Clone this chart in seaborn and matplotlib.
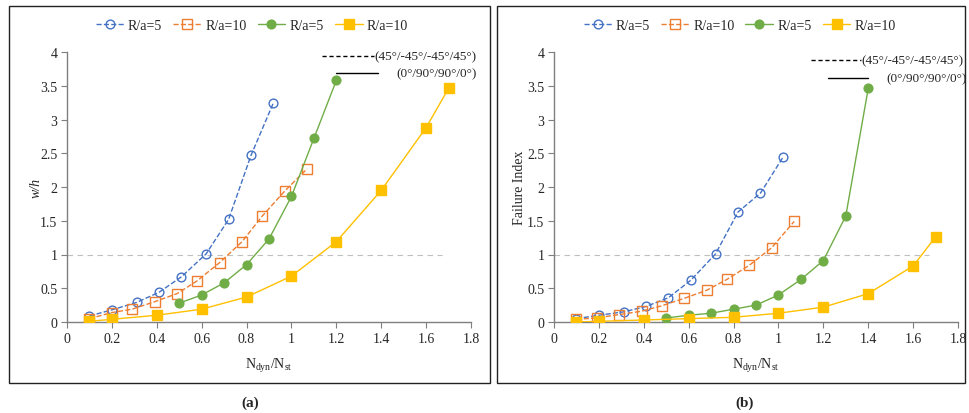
import matplotlib
matplotlib.use("Agg")
import matplotlib.pyplot as plt
import seaborn as sns
from matplotlib.lines import Line2D
from matplotlib.patches import Rectangle

# ---------------- data ----------------
# (a) w/h
a_blue_x = [0.1, 0.2, 0.31, 0.41, 0.51, 0.62, 0.72, 0.82, 0.92]
a_blue_y = [0.09, 0.18, 0.29, 0.44, 0.67, 1.01, 1.52, 2.47, 3.25]
a_orange_x = [0.1, 0.2, 0.29, 0.39, 0.49, 0.58, 0.68, 0.78, 0.87, 0.97, 1.07]
a_orange_y = [0.05, 0.14, 0.19, 0.30, 0.42, 0.61, 0.88, 1.19, 1.57, 1.94, 2.27]
a_green_x = [0.5, 0.6, 0.7, 0.8, 0.9, 1.0, 1.1, 1.2]
a_green_y = [0.28, 0.40, 0.58, 0.85, 1.23, 1.86, 2.72, 3.58]
a_yellow_x = [0.1, 0.2, 0.4, 0.6, 0.8, 1.0, 1.2, 1.4, 1.6, 1.7]
a_yellow_y = [0.01, 0.04, 0.10, 0.19, 0.37, 0.68, 1.19, 1.95, 2.88, 3.46]

# (b) Failure Index
b_blue_x = [0.1, 0.2, 0.31, 0.41, 0.51, 0.61, 0.72, 0.82, 0.92, 1.02]
b_blue_y = [0.05, 0.10, 0.15, 0.23, 0.36, 0.62, 1.01, 1.63, 1.91, 2.44]
b_orange_x = [0.1, 0.19, 0.29, 0.39, 0.48, 0.58, 0.68, 0.77, 0.87, 0.97, 1.07]
b_orange_y = [0.04, 0.06, 0.11, 0.16, 0.24, 0.35, 0.47, 0.63, 0.84, 1.10, 1.49]
b_green_x = [0.5, 0.6, 0.7, 0.8, 0.9, 1.0, 1.1, 1.2, 1.3, 1.4]
b_green_y = [0.06, 0.10, 0.13, 0.19, 0.25, 0.40, 0.63, 0.91, 1.57, 3.46]
b_yellow_x = [0.1, 0.2, 0.4, 0.6, 0.8, 1.0, 1.2, 1.4, 1.6, 1.7]
b_yellow_y = [0.0, 0.01, 0.03, 0.05, 0.07, 0.13, 0.22, 0.42, 0.83, 1.26]

legend_labels = ["R/a=5", "R/a=10", "R/a=5", "R/a=10"]
layup_labels = ["(45°/-45°/-45°/45°)", "(0°/90°/90°/0°)"]
x_ticks = [0, 0.2, 0.4, 0.6, 0.8, 1, 1.2, 1.4, 1.6, 1.8]
x_tick_labels = ["0", "0.2", "0.4", "0.6", "0.8", "1", "1.2", "1.4", "1.6", "1.8"]
y_ticks = [0, 0.5, 1, 1.5, 2, 2.5, 3, 3.5, 4]
y_tick_labels = ["0", "0.5", "1", "1.5", "2", "2.5", "3", "3.5", "4"]

BLUE = "#4472C4"
ORANGE = "#ED7D31"
GREEN = "#70AD47"
YELLOW = "#FFC000"
FS = 9.5

sns.set_style("white")
plt.rcParams["font.family"] = ["Liberation Serif", "DejaVu Serif"]
plt.rcParams["mathtext.fontset"] = "custom"
plt.rcParams["mathtext.rm"] = "Liberation Serif"
plt.rcParams["mathtext.it"] = "Liberation Serif:italic"

fig = plt.figure(figsize=(9.7, 4.14), dpi=100)

W, H = 970.0, 414.0
axA = fig.add_axes([67 / W, (H - 323) / H, 404 / W, 270 / H])
axB = fig.add_axes([554 / W, (H - 323) / H, 404 / W, 270 / H])

# panel frames
fig.patches.append(Rectangle((9 / W, (H - 384) / H), 481 / W, 377 / H,
                             transform=fig.transFigure, fill=False,
                             edgecolor="#222222", linewidth=1.0))
fig.patches.append(Rectangle((497 / W, (H - 384) / H), 468 / W, 377 / H,
                             transform=fig.transFigure, fill=False,
                             edgecolor="#222222", linewidth=1.0))


def draw(ax, series, ylabel, italic, dash_pos, solid_pos, leg_x):
    ax.plot([0, 1.67], [1, 1], color="#BFBFBF", linestyle=(0, (5, 4)),
            linewidth=0.8, zorder=1)
    for (xs, ys, color, marker, filled, ls) in series:
        sns.lineplot(x=xs, y=ys, ax=ax, color=color, marker=marker,
                     linestyle=ls, linewidth=1.0,
                     markersize=6.3 if marker == "o" else 6.5,
                     markerfacecolor=color if filled else "none",
                     markeredgecolor=color, markeredgewidth=1.0,
                     sort=False, estimator=None, legend=False, zorder=3)
    ax.set_xlim(0, 1.8)
    ax.set_ylim(0, 4)
    ax.set_xticks(x_ticks)
    ax.set_xticklabels(x_tick_labels)
    ax.set_yticks(y_ticks)
    ax.set_yticklabels(y_tick_labels)
    for s in ["top", "right"]:
        ax.spines[s].set_visible(False)
    for s in ["left", "bottom"]:
        ax.spines[s].set_color("#7F7F7F")
        ax.spines[s].set_linewidth(1.0)
    ax.tick_params(axis="both", direction="out", length=4, width=0.8,
                   color="#7F7F7F", labelsize=FS + 0.5, pad=3,
                   bottom=True, left=True)
    ax.set_xlabel(r"N$_{\mathrm{dyn}}$/N$_{\mathrm{st}}$", fontsize=FS + 0.5,
                  labelpad=8)
    if italic:
        ax.set_ylabel(ylabel, fontsize=FS + 0.5, style="italic", labelpad=-2)
    else:
        ax.set_ylabel(ylabel, fontsize=FS + 0.5, labelpad=1)
    ax.set_facecolor("none")

    # layup annotation
    (dx0, dx1, dy, tx1) = dash_pos
    (sx0, sx1, sy, tx2) = solid_pos
    ax.plot([dx0, dx1], [dy, dy], color="black", linestyle=(0, (3, 2)),
            linewidth=1.0, clip_on=False)
    ax.text(tx1, dy, layup_labels[0], fontsize=FS, va="center", ha="left")
    ax.plot([sx0, sx1], [sy, sy], color="black", linestyle="-",
            linewidth=1.0, clip_on=False)
    ax.text(tx2, sy, layup_labels[1], fontsize=FS, va="center", ha="left")

    handles = [
        Line2D([], [], color=BLUE, linestyle="--", marker="o", markerfacecolor="none",
               markeredgecolor=BLUE, markersize=6.3, linewidth=1.0),
        Line2D([], [], color=ORANGE, linestyle="--", marker="s", markerfacecolor="none",
               markeredgecolor=ORANGE, markersize=6.5, linewidth=1.0),
        Line2D([], [], color=GREEN, linestyle="-", marker="o", markerfacecolor=GREEN,
               markeredgecolor=GREEN, markersize=6.3, linewidth=1.0),
        Line2D([], [], color=YELLOW, linestyle="-", marker="s", markerfacecolor=YELLOW,
               markeredgecolor=YELLOW, markersize=6.5, linewidth=1.0),
    ]
    ax.legend(handles, legend_labels, ncol=4, loc="center",
              bbox_to_anchor=(leg_x, 1.10), frameon=False, fontsize=FS + 0.5,
              handlelength=2.0, columnspacing=0.8, handletextpad=0.3)


draw(axA,
     [(a_blue_x, a_blue_y, BLUE, "o", False, "--"),
      (a_orange_x, a_orange_y, ORANGE, "s", False, "--"),
      (a_green_x, a_green_y, GREEN, "o", True, "-"),
      (a_yellow_x, a_yellow_y, YELLOW, "s", True, "-")],
     "w/h", True,
     (1.136, 1.37, 3.94, 1.37),
     (1.20, 1.386, 3.69, 1.466), 0.458)

draw(axB,
     [(b_blue_x, b_blue_y, BLUE, "o", False, "--"),
      (b_orange_x, b_orange_y, ORANGE, "s", False, "--"),
      (b_green_x, b_green_y, GREEN, "o", True, "-"),
      (b_yellow_x, b_yellow_y, YELLOW, "s", True, "-")],
     "Failure Index", False,
     (1.146, 1.37, 3.88, 1.37),
     (1.22, 1.40, 3.61, 1.48), 0.46)

fig.text(250 / W, (H - 403) / H, "(a)", fontsize=11, fontweight="bold",
         ha="center", va="center")
fig.text(745 / W, (H - 403) / H, "(b)", fontsize=11, fontweight="bold",
         ha="center", va="center")

fig.savefig("out.png", dpi=100)
